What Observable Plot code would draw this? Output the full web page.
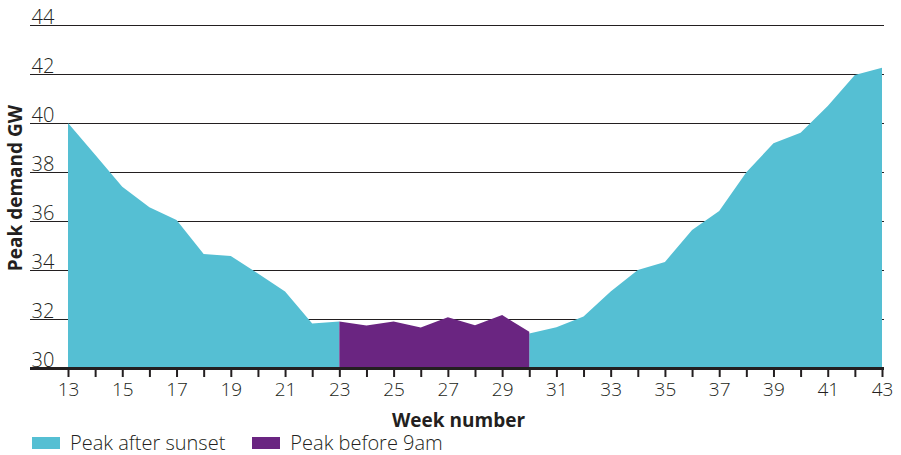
<!DOCTYPE html>
<html>
<head>
<meta charset="utf-8">
<script src="https://cdn.jsdelivr.net/npm/d3@7"></script>
<script src="https://cdn.jsdelivr.net/npm/@observablehq/plot@0.6"></script>
<style>
  body { margin: 0; background: #fff; font-family: "Open Sans", "Liberation Sans", Arial, sans-serif; color: #231f20; }
  #chart svg { display: block; }
  #legend { display: flex; align-items: center; height: 22px; padding-left: 32px; font-size: 20px; line-height: 20px; font-weight: 300; }
  .sw { width: 28px; height: 12px; display: inline-block; margin-right: 10px; }
  .item { display: flex; align-items: center; margin-right: 27px; line-height: 20px; }
</style>
</head>
<body>
<div id="chart"></div>
<script>
const weeks = d3.range(13, 44);
const afterSunset = [40.0, 38.7, 37.4, 36.56, 36.04, 34.65, 34.57, 33.86, 33.12, 31.82, 31.9,
  null, null, null, null, null, null,
  31.41, 31.66, 32.1, 33.12, 34.0, 34.33, 35.63, 36.41, 37.99, 39.17, 39.6, 40.69, 41.96, 42.26];
const before9amWeeks = [23, 24, 25, 26, 27, 28, 29, 30];
const before9am = [31.9, 31.73, 31.9, 31.65, 32.07, 31.74, 32.16, 31.48];
const yTicks = [30, 32, 34, 36, 38, 40, 42, 44];
const seriesNames = ["Peak after sunset", "Peak before 9am"];
const colors = ["#55bfd3", "#6a2581"];

const cyanData = weeks.map((w, i) => ({week: w, value: afterSunset[i]}));
const purpleData = before9amWeeks.map((w, i) => ({week: w, value: before9am[i]}));

const plot = Plot.plot({
  width: 901,
  height: 432,
  marginLeft: 68,
  marginRight: 19,
  marginTop: 25,
  marginBottom: 64,
  style: {fontFamily: "Open Sans, Liberation Sans, Arial, sans-serif", color: "#231f20"},
  x: {domain: [13, 43], axis: null},
  y: {domain: [30, 44], axis: null},
  marks: [
    Plot.ruleY(yTicks.filter(d => d > 30), {stroke: "#231f20", strokeWidth: 1.2, insetLeft: -38, insetRight: -2}),
    Plot.text(yTicks, {y: d => d, text: d => String(d), frameAnchor: "left", textAnchor: "start", lineAnchor: "bottom", dx: -37, dy: -2, fontSize: 20, fontWeight: 300, fill: "#231f20"}),
    Plot.areaY(cyanData, {x: "week", y1: 30, y2: "value", fill: colors[0]}),
    Plot.areaY(purpleData, {x: "week", y1: 30, y2: "value", fill: colors[1]}),
    Plot.axisX({ticks: weeks, tickFormat: d => d % 2 ? String(d) : "", tickSize: 9, tickPadding: 5, fontSize: 19, fontWeight: 300, strokeWidth: 2, label: null, stroke: "#231f20", fill: "#231f20"}),
    Plot.ruleY([30], {stroke: "#231f20", strokeWidth: 3, insetLeft: -38, insetRight: -2}),
    Plot.text(["Week number"], {frameAnchor: "bottom", lineAnchor: "bottom", dy: 58, dx: -17, fontSize: 19, fontWeight: "bold", fill: "#231f20"}),
    Plot.text(["Peak demand GW"], {frameAnchor: "left", textAnchor: "middle", rotate: -90, dx: -53, dy: -9, fontSize: 19, fontWeight: "bold", fill: "#231f20"})
  ]
});
document.getElementById("chart").appendChild(plot);

const legend = document.createElement("div");
legend.id = "legend";
seriesNames.forEach((name, i) => {
  const item = document.createElement("span");
  item.className = "item";
  const sw = document.createElement("span");
  sw.className = "sw";
  sw.style.background = colors[i];
  item.appendChild(sw);
  item.appendChild(document.createTextNode(name));
  legend.appendChild(item);
});
document.body.appendChild(legend);
</script>
</body>
</html>
